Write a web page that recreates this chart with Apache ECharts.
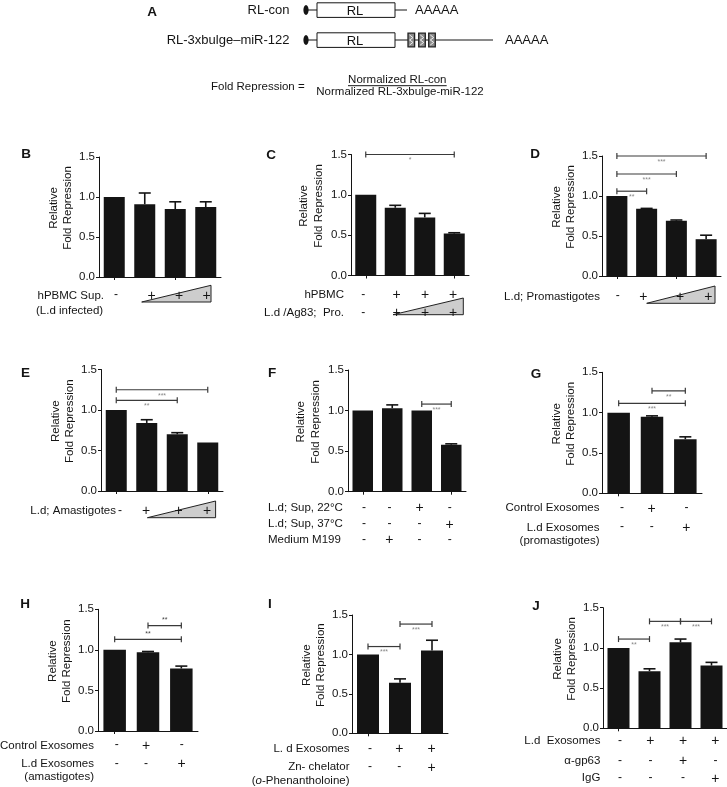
<!DOCTYPE html>
<html><head><meta charset="utf-8">
<script src="https://cdn.jsdelivr.net/npm/echarts@6/dist/echarts.min.js"></script>
<style>html,body{margin:0;padding:0;background:#fff}#c{width:727px;height:787px}</style>
</head><body><div id="c"></div>
<script>
// ---------------- DATA ----------------
const yTicks = [0.0, 0.5, 1.0, 1.5];
const yName = 'Relative\nFold Repression';

const catsB = ['none', 'sup low', 'sup mid', 'sup high'];
const valsB = [1.00, 0.91, 0.85, 0.875];
const errsB = [1.00, 1.05, 0.94, 0.94];
const sigB = [];

const catsC = ['none', 'Ag83 low', 'Ag83 mid', 'Ag83 high'];
const valsC = [1.00, 0.84, 0.72, 0.52];
const errsC = [1.00, 0.87, 0.77, 0.53];
const sigC = [[0, 3, 1.5, 1]];

const catsD = ['none', 'pro low', 'pro mid', 'pro high'];
const valsD = [1.00, 0.84, 0.69, 0.46];
const errsD = [1.00, 0.845, 0.70, 0.51];
const sigD = [[0, 1, 1.06, 2], [0, 2, 1.275, 3], [0, 3, 1.5, 3]];

const catsE = ['none', 'ama low', 'ama mid', 'ama high'];
const valsE = [1.00, 0.84, 0.70, 0.60];
const errsE = [1.00, 0.88, 0.72, 0.60];
const sigE = [[0, 2, 1.12, 2], [0, 3, 1.25, 3]];

const catsF = ['none', 'M199', 'Sup 22C', 'Sup 37C'];
const valsF = [1.00, 1.03, 1.00, 0.58];
const errsF = [1.00, 1.07, 1.00, 0.59];
const sigF = [[2, 3, 1.08, 3]];

const catsG = ['none', 'control exo', 'L.d exo'];
const valsG = [1.00, 0.95, 0.67];
const errsG = [1.00, 0.96, 0.70];
const sigG = [[1, 2, 1.27, 2], [0, 2, 1.115, 3]];

const catsH = ['none', 'control exo', 'L.d exo'];
const valsH = [1.00, 0.97, 0.77];
const errsH = [1.00, 0.98, 0.80];
const sigH = [[1, 2, 1.30, 2], [0, 2, 1.13, 2]];

const catsI = ['none', 'L.d exo', 'L.d exo + Zn chelator'];
const valsI = [1.00, 0.64, 1.05];
const errsI = [1.00, 0.69, 1.18];
const sigI = [[0, 1, 1.10, 3], [1, 2, 1.385, 3]];

const catsJ = ['none', 'L.d exo', 'L.d exo + a-gp63', 'L.d exo + IgG'];
const valsJ = [1.00, 0.71, 1.07, 0.78];
const errsJ = [1.00, 0.74, 1.11, 0.82];
const sigJ = [[0, 1, 1.11, 2], [1, 2, 1.33, 3], [2, 3, 1.33, 3]];

// treatment tables (row label, symbols per category)
const rowsB = [['hPBMC Sup.', ['-', '+', '+', '+']]];
const rowsC = [['hPBMC', ['-', '+', '+', '+']], ['L.d /Ag83;  Pro.', ['-', '+', '+', '+']]];
const rowsD = [['L.d; Promastigotes', ['-', '+', '+', '+']]];
const rowsE = [['L.d; Amastigotes', ['-', '+', '+', '+']]];
const rowsF = [['L.d; Sup, 22°C', ['-', '-', '+', '-']], ['L.d; Sup, 37°C', ['-', '-', '-', '+']], ['Medium M199', ['-', '+', '-', '-']]];
const rowsG = [['Control Exosomes', ['-', '+', '-']], ['L.d Exosomes', ['-', '-', '+']]];
const rowsH = [['Control Exosomes', ['-', '+', '-']], ['L.d Exosomes', ['-', '-', '+']]];
const rowsI = [['L. d Exosomes', ['-', '+', '+']], ['Zn- chelator', ['-', '-', '+']]];
const rowsJ = [['L.d  Exosomes', ['-', '+', '+', '+']], ['α-gp63', ['-', '-', '+', '-']], ['IgG', ['-', '-', '-', '+']]];

// ---------------- LAYOUT ----------------
const FF = '"Liberation Sans", Arial, Helvetica, sans-serif';
const INK = '#141414';
const panels = [
  {L:'B', cats:catsB, vals:valsB, errs:errsB, sig:sigB, rows:rowsB, grid:{left:99, top:157, width:122, height:120}, bw:21, gap:22, letter:[26,154.5],
    symX:[116,151.7,179,206.7], rowY:[295.5], labX:104, tri:[[141.7,302],[211,285.3],[211,302]], extra:[['(L.d infected)',36,310.5,'left']]},
  {L:'C', cats:catsC, vals:valsC, errs:errsC, sig:sigC, rows:rowsC, grid:{left:351, top:154.5, width:118, height:121}, bw:21, gap:25, letter:[271,155],
    symX:[363.3,396.5,425,453], rowY:[294.7,313], labX:344, tri:[[393,314.7],[463.3,298],[463.3,314.7]], extra:[]},
  {L:'D', cats:catsD, vals:valsD, errs:errsD, sig:sigD, rows:rowsD, grid:{left:602, top:156, width:119, height:120}, bw:21, gap:22, letter:[535,154.5],
    symX:[617.7,643.3,680,708.3], rowY:[296.5], labX:600, tri:[[646.7,303.3],[715,286],[715,303.3]], extra:[]},
  {L:'E', cats:catsE, vals:valsE, errs:errsE, sig:sigE, rows:rowsE, grid:{left:101, top:369.5, width:122, height:121.5}, bw:21, gap:23, letter:[25.5,373],
    symX:[120,146,178.5,207], rowY:[511], labX:116, tri:[[147.4,517.7],[215.6,501],[215.6,517.7]], extra:[]},
  {L:'F', cats:catsF, vals:valsF, errs:errsF, sig:sigF, rows:rowsF, grid:{left:348, top:370, width:118, height:121.7}, bw:20.5, gap:25, letter:[272,373.5],
    symX:[364,389.4,419.6,449.7], rowY:[507.7,524.3,540], labX:268, labAlign:'left', tri:null, extra:[]},
  {L:'G', cats:catsG, vals:valsG, errs:errsG, sig:sigG, rows:rowsG, grid:{left:602, top:372.3, width:100, height:121}, bw:22.5, gap:18, letter:[536,374],
    symX:[622,651.7,686.4], rowY:[508.3,527.5], labX:599.5, tri:null, extra:[['(promastigotes)',599.5,540.5,'right']]},
  {L:'H', cats:catsH, vals:valsH, errs:errsH, sig:sigH, rows:rowsH, grid:{left:98, top:609.3, width:100, height:121.7}, bw:22.5, gap:21, letter:[25,604.5], above:true,
    symX:[116.8,146,181.7], rowY:[745.5,764], labX:94, tri:null, extra:[['(amastigotes)',94,777,'right']]},
  {L:'I', cats:catsI, vals:valsI, errs:errsI, sig:sigI, rows:rowsI, grid:{left:352, top:615, width:96, height:118.3}, bw:22, gap:21, letter:[270,604.5],
    symX:[370,399.3,431.7], rowY:[749,767.3], labX:349.5, tri:null, extra:[['rich',349.5,780.7,'right']]},
  {L:'J', cats:catsJ, vals:valsJ, errs:errsJ, sig:sigJ, rows:rowsJ, grid:{left:603, top:607.7, width:128, height:120.6}, bw:22, gap:21, letter:[536,606],
    symX:[620,650.4,683,715.4], rowY:[740.7,760.7,778.3], labX:600.4, tri:null, extra:[]}
];

// ---------------- RENDERERS ----------------
function renderErr(params, api) {
  const v = api.value(1), e = api.value(2);
  if (!(e > v + 0.004)) return null;
  const p0 = api.coord([api.value(0), v]);
  const p1 = api.coord([api.value(0), e]);
  return {type:'group', children:[
    {type:'line', shape:{x1:p0[0], y1:p0[1], x2:p1[0], y2:p1[1]}, style:{stroke:INK, lineWidth:1.6}},
    {type:'line', shape:{x1:p1[0]-6, y1:p1[1], x2:p1[0]+6, y2:p1[1]}, style:{stroke:INK, lineWidth:1.6}}
  ]};
}
function makeSig(above) {
  return function (params, api) {
    const y = api.value(2), n = api.value(3);
    const a = api.coord([api.value(0), y]);
    const b = api.coord([api.value(1), y]);
    const col = '#3a3a3a';
    return {type:'group', children:[
      {type:'line', shape:{x1:a[0], y1:a[1], x2:b[0], y2:b[1]}, style:{stroke:col, lineWidth:1.2}},
      {type:'line', shape:{x1:a[0], y1:a[1]-3, x2:a[0], y2:a[1]+3}, style:{stroke:col, lineWidth:1.2}},
      {type:'line', shape:{x1:b[0], y1:b[1]-3, x2:b[0], y2:b[1]+3}, style:{stroke:col, lineWidth:1.2}},
      {type:'text', style:{text:'*'.repeat(n), x:(a[0]+b[0])/2, y: above ? a[1]-5 : a[1]+6,
        textAlign:'center', textVerticalAlign:'middle', align:'center', verticalAlign:'middle',
        font:'7px ' + FF, fill: above ? '#444' : '#888'}}
    ]};
  };
}

// ---------------- BUILD OPTION ----------------
const grids = [], xAxes = [], yAxes = [], series = [], G = [];
function txt(x, y, s, opt) {
  opt = opt || {};
  G.push({type:'text', z:100, style:Object.assign({x:x, y:y, text:s,
    font:(opt.bold ? 'bold ' : '') + (opt.italic ? 'italic ' : '') + (opt.size || 11.5) + 'px ' + FF,
    fill:opt.color || INK, textAlign:opt.align || 'left', textVerticalAlign:'middle',
    align:opt.align || 'left', verticalAlign:'middle'}, opt.extra || {})});
}

panels.forEach(function (p, i) {
  grids.push(Object.assign({containLabel:false}, p.grid));
  xAxes.push({gridIndex:i, type:'category', data:p.cats,
    axisLine:{show:true, lineStyle:{color:INK, width:1}},
    axisTick:{show:true, alignWithLabel:true, length:3, lineStyle:{color:INK, width:1}},
    axisLabel:{show:false}, splitLine:{show:false}});
  yAxes.push({gridIndex:i, type:'value', min:yTicks[0], max:yTicks[yTicks.length-1], interval:yTicks[1]-yTicks[0],
    name:yName, nameLocation:'middle', nameGap:p.gap,
    nameTextStyle:{fontSize:11.5, fontFamily:FF, color:INK, lineHeight:14.5, padding:[0,0,0,18]},
    axisLine:{show:true, lineStyle:{color:INK, width:1}},
    axisTick:{show:true, length:3, lineStyle:{color:INK, width:1}},
    axisLabel:{show:true, fontSize:11.5, fontFamily:FF, color:INK, margin:4, showMinLabel:true, showMaxLabel:true,
      formatter:function (v) { return v.toFixed(1); }},
    splitLine:{show:false}});
  series.push({type:'bar', xAxisIndex:i, yAxisIndex:i, data:p.vals, barWidth:p.bw,
    itemStyle:{color:INK}, z:2, silent:true});
  series.push({type:'custom', xAxisIndex:i, yAxisIndex:i, renderItem:renderErr, z:3, silent:true,
    encode:{x:0, y:[1,2]}, data:p.cats.map(function (c, k) { return [k, p.vals[k], p.errs[k]]; })});
  if (p.sig.length) {
    series.push({type:'custom', xAxisIndex:i, yAxisIndex:i, renderItem:makeSig(!!p.above), z:4, silent:true,
      encode:{x:[0,1], y:2}, data:p.sig});
  }
  txt(p.letter[0], p.letter[1], p.L, {bold:true, size:13.5, align:'center'});
  if (p.tri) {
    G.push({type:'polygon', z:50, shape:{points:p.tri}, style:{fill:'#cdcdcd', stroke:'#222', lineWidth:1}});
  }
  p.rows.forEach(function (r, ri) {
    const y = p.rowY[ri];
    txt(p.labX, y, r[0], {align:p.labAlign || 'right'});
    r[1].forEach(function (s, si) {
      txt(p.symX[si], s === '+' ? y + 0.5 : y - 0.5, s, {size:s === '+' ? 14 : 12, align:'center'});
    });
  });
  p.extra.forEach(function (e) {
    if (e[0] === 'rich') {
      G.push({type:'text', z:100, style:{x:e[1], y:e[2], text:'({i|o}-Phenantholoine)',
        font:'11.5px ' + FF, fill:INK, textAlign:'right', textVerticalAlign:'middle', align:'right', verticalAlign:'middle',
        rich:{i:{fontStyle:'italic', fontSize:11.5, fontFamily:FF, fill:INK, color:INK}}}});
    } else {
      txt(e[1], e[2], e[0], {align:e[3]});
    }
  });
});

// ---------- Panel A (construct diagram) ----------
txt(152, 12, 'A', {bold:true, size:13.5, align:'center'});
[[10, 'RL-con'], [40, 'RL-3xbulge–miR-122']].forEach(function (row, k) {
  const y = row[0];
  txt(289.5, y, row[1], {size:13, align:'right'});
  G.push({type:'ellipse', z:60, shape:{cx:306, cy:y, rx:2.6, ry:5}, style:{fill:INK}});
  G.push({type:'line', z:55, shape:{x1:306, y1:y, x2:317, y2:y}, style:{stroke:INK, lineWidth:1}});
  G.push({type:'rect', z:60, shape:{x:317, y:y-7.2, width:78, height:14.6}, style:{fill:'#fff', stroke:INK, lineWidth:1}});
  txt(355, y + 1, 'RL', {size:13, align:'center'});
  const lineEnd = k === 0 ? 407 : 493;
  G.push({type:'line', z:55, shape:{x1:395, y1:y, x2:lineEnd, y2:y}, style:{stroke:INK, lineWidth:1}});
  txt(k === 0 ? 415 : 505, y, 'AAAAA', {size:13});
  if (k === 1) {
    [408, 418.7, 428.7].forEach(function (bx) {
      G.push({type:'rect', z:60, shape:{x:bx, y:y-6.8, width:6.6, height:13.6}, style:{fill:'#8a8a8a', stroke:'#222', lineWidth:1.3}});
      G.push({type:'polyline', z:61, shape:{points:[[bx+1.6,y-5],[bx+5,y-2.4],[bx+1.6,y],[bx+5,y+2.4],[bx+1.6,y+5]]}, style:{stroke:'#eee', fill:null, lineWidth:1}});
    });
  }
});
txt(211, 87.3, 'Fold Repression =', {size:11.5});
txt(397.3, 79.5, 'Normalized RL-con', {size:11.5, align:'center'});
G.push({type:'line', z:55, shape:{x1:348, y1:85.7, x2:446.7, y2:85.7}, style:{stroke:INK, lineWidth:1}});
txt(400, 92, 'Normalized RL-3xbulge-miR-122', {size:11.5, align:'center'});

const chart = echarts.init(document.getElementById('c'), null, {renderer:'canvas', width:727, height:787});
chart.setOption({
  animation:false,
  backgroundColor:'#ffffff',
  textStyle:{fontFamily:FF},
  grid:grids, xAxis:xAxes, yAxis:yAxes, series:series,
  graphic:{elements:G}
});
</script>
</body></html>
